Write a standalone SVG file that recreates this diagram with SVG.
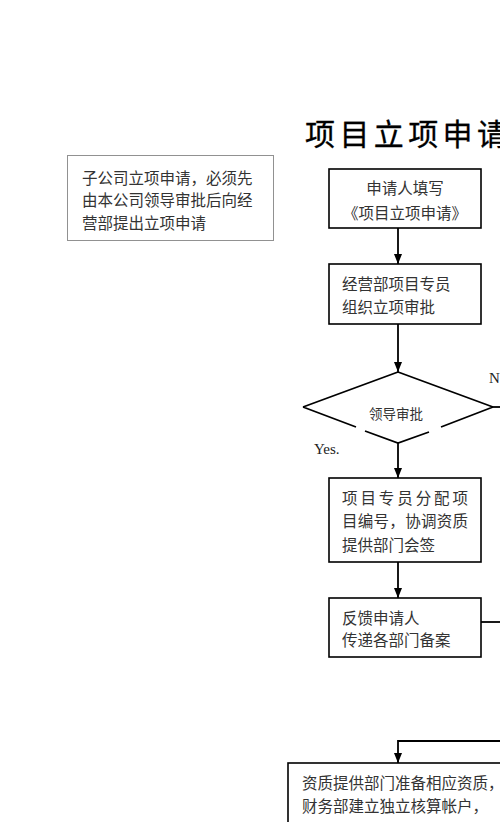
<svg xmlns="http://www.w3.org/2000/svg" width="500" height="822" viewBox="0 0 500 822">
<style>
.box{fill:#fff;stroke:#000;stroke-width:1.6}
.note{fill:#fff;stroke:#222;stroke-width:1;stroke-dasharray:1 1}
.t{font-family:"Noto Sans CJK SC","Noto Sans CJK JP",sans-serif;font-size:15.5px;fill:#333;dominant-baseline:central}
.s{font-family:"Noto Sans CJK SC",sans-serif;font-size:13.5px;fill:#333;dominant-baseline:central}
.lat{font-family:"Liberation Serif",serif;font-size:15px;fill:#222}
.ln{fill:none;stroke:#000;stroke-width:1.8}
</style>
<defs>
<marker id="ah" viewBox="0 0 10 8" refX="10" refY="4" markerWidth="10" markerHeight="8" markerUnits="userSpaceOnUse" orient="auto">
<path d="M0,0 L10,4 L0,8 z" fill="#000"/>
</marker>
</defs>
<rect width="500" height="822" fill="#fff"/>
<text x="305" y="145" font-family="Noto Sans CJK SC,sans-serif" font-size="30" letter-spacing="4.4" fill="#000" stroke="#000" stroke-width="0.3">项目立项申请</text>

<g id="note">
<rect class="note" x="67.5" y="155.5" width="206" height="85"/>
<text class="t" x="82" y="177">子公司立项申请，必须先</text>
<text class="t" x="82" y="199">由本公司领导审批后向经</text>
<text class="t" x="82" y="222">营部提出立项申请</text>
</g>

<g id="n1">
<rect class="box" x="329" y="169" width="152" height="59"/>
<text class="t" x="405" y="187" text-anchor="middle">申请人填写</text>
<text class="t" x="405" y="212" text-anchor="middle">《项目立项申请》</text>
</g>

<g id="n2">
<rect class="box" x="329" y="264" width="152" height="60"/>
<text class="t" x="342" y="283">经营部项目专员</text>
<text class="t" x="342" y="306">组织立项审批</text>
</g>

<g id="n3">
<path class="ln" d="M398,372 L493,407 M398,372 L303,407 M303,407 L356,427 M365,431 L398,443 L429,432 M441,427 L493,407"/>
<text class="s" x="396" y="413" text-anchor="middle">领导审批</text>
</g>

<g id="n4">
<rect class="box" x="329" y="478" width="152" height="84"/>
<text class="t" x="342" y="497" textLength="126" lengthAdjust="spacing">项目专员分配项</text>
<text class="t" x="342" y="520" textLength="126" lengthAdjust="spacing">目编号，协调资质</text>
<text class="t" x="342" y="544">提供部门会签</text>
</g>

<g id="n5">
<rect class="box" x="329" y="598" width="152" height="59"/>
<text class="t" x="342" y="617">反馈申请人</text>
<text class="t" x="342" y="639">传递各部门备案</text>
</g>

<g id="n6">
<rect class="box" x="288" y="763" width="230" height="80" stroke-width="1.2"/>
<text class="t" x="302" y="782">资质提供部门准备相应资质，</text>
<text class="t" x="302" y="805">财务部建立独立核算帐户，</text>
</g>

<g id="connectors">
<line class="ln" x1="398" y1="228" x2="398" y2="264" marker-end="url(#ah)"/>
<line class="ln" x1="398" y1="324" x2="398" y2="372" marker-end="url(#ah)"/>
<line class="ln" x1="398" y1="443" x2="398" y2="478" marker-end="url(#ah)"/>
<line class="ln" x1="398" y1="562" x2="398" y2="598" marker-end="url(#ah)"/>
<line class="ln" x1="493" y1="407" x2="500" y2="407"/>
<line class="ln" x1="481" y1="622" x2="500" y2="622"/>
<path class="ln" d="M500,741 L398,741 L398,763" marker-end="url(#ah)"/>
<text class="lat" x="489" y="383">N</text>
<text class="lat" x="314" y="454">Yes.</text>
</g>
</svg>
